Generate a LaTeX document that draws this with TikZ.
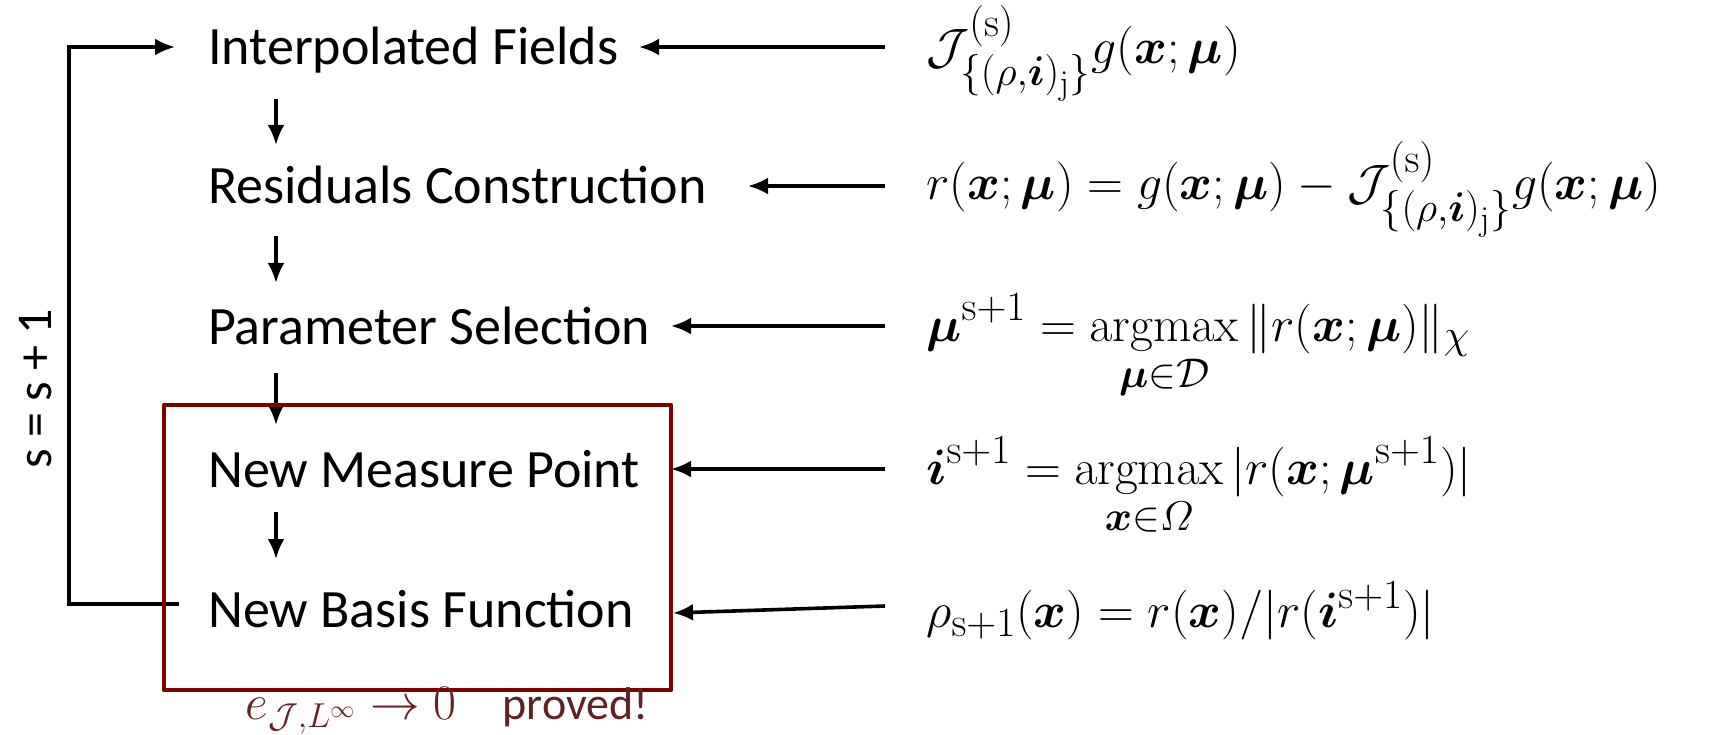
\documentclass[tikz,border=0pt]{standalone}
\usepackage{xcolor}
\usepackage{amsmath, amssymb}
\usepackage[no-math]{fontspec}
\setmainfont{Carlito}
\usepackage{tikz}
\usetikzlibrary{arrows.meta, calc}

\definecolor{boxred}{RGB}{128,0,0}
\definecolor{notered}{RGB}{98,34,34}
\newcommand{\bx}{\boldsymbol{x}}
\newcommand{\bmu}{\boldsymbol{\mu}}
\newcommand{\bi}{\boldsymbol{i}}
\newcommand{\Jint}{\mathcal{J}^{(\mathrm{s})}_{\{(\rho,\bi)_{\mathrm{j}}\}}}

\begin{document}
\begin{tikzpicture}[x=1pt, y=-1pt,
  flow/.style={line width=3.6pt, -{Latex[length=20pt, width=17pt]}},
  stepname/.style={anchor=base west, inner sep=0pt, font=\fontsize{54}{64}\selectfont},
  formula/.style={anchor=base west, inner sep=0pt, scale=2, transform shape, font=\fontsize{24.88}{30}\selectfont}]
\useasboundingbox (0,0) rectangle (1718,735);
% steps of the loop
\node[stepname] (n1) at (208,65) {Interpolated Fields};
\node[stepname] (n2) at (208,204) {Residuals Construction};
\node[stepname] (n3) at (208,344) {Parameter Selection};
\node[stepname] (n4) at (208,487) {New Measure Point};
\node[stepname] (n5) at (208,627) {New Basis Function};
% formulas
\node[formula] (f1) at (926,64) {$\Jint g(\bx;\bmu)$};
\node[formula] (f2) at (926,200) {$r(\bx;\bmu) = g(\bx;\bmu) - \Jint g(\bx;\bmu)$};
\node[formula] (f3) at (926,341) {$\displaystyle \bmu^{\mathrm{s}+1} = \operatorname*{argmax}_{\bmu\in\mathcal{D}} \|r(\bx;\bmu)\|_{\chi}$};
\node[formula] (f4) at (926,484) {$\displaystyle \bi^{\mathrm{s}+1} = \operatorname*{argmax}_{\bx\in\varOmega} |r(\bx;\bmu^{\mathrm{s}+1})|$};
\node[formula] (f5) at (926,627) {$\rho_{\mathrm{s}+1}(\bx) = r(\bx)/|r(\bi^{\mathrm{s}+1})|$};
% arrow tips and loop corners
\coordinate (t1) at (639,47);
\coordinate (t2) at (748,186);
\coordinate (t3) at (671,326);
\coordinate (t4) at (671,469);
\coordinate (t5) at (673,613);
\coordinate (s5) at (885,606);
\coordinate (lb) at (179,604);
\coordinate (lt) at (175,47);
% down arrows
\draw[flow] (276,99) -- (276,145);
\draw[flow] (276,236) -- (276,283);
\draw[flow] (276,373) -- (276,425);
\draw[flow] (276,512) -- (276,559);
% from formulas to steps
\draw[flow] (t1 -| 885,0) -- (t1);
\draw[flow] (t2 -| 885,0) -- (t2);
\draw[flow] (t3 -| 885,0) -- (t3);
\draw[flow] (t4 -| 885,0) -- (t4);
\draw[flow] (s5) -- (t5);
% loop back
\draw[flow] (lb) -- (69,604) -- (69,47) -- (lt);
\node[rotate=90, font=\fontsize{50}{58}\selectfont] (cnt) at (36,389) {s = s + 1};
% red box
\draw[boxred, line width=4.5pt, line join=round] (164,405) rectangle (671,690) coordinate (boxse);
\node[notered, scale=2, transform shape, font=\fontsize{23}{28}\selectfont] (note) at (447,711) {$e_{\mathcal{J},L^{\infty}} \to 0$\quad proved!};
\end{tikzpicture}
\end{document}
